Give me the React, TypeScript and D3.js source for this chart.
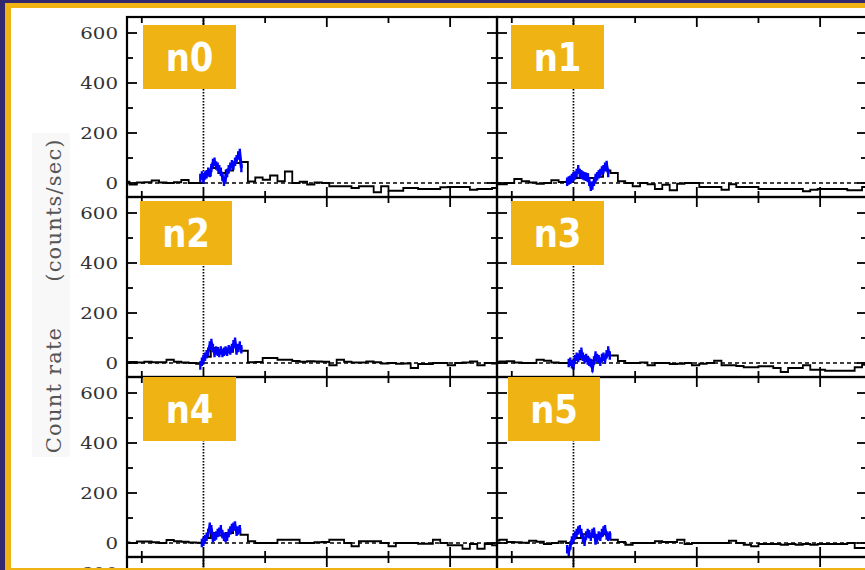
import React from "react";
import * as d3 from "d3";

// ---- data ----
const DETECTORS = ["n0", "n1", "n2", "n3", "n4", "n5"];
const BIN_START = -3.3;
const BIN_WIDTH = 0.3;

const HIST_N0 = [5, -6, 2, 3, 10, 2, 0, 3, 12, 0, 0, 30, 60, 40, 50, 80, 84, 6, 22, 13, 30, 7, 46, 0, 5, -6, 2, 0, -13, -13, -13, -20, -13, -13, -37, -13, -31, -31, -20, -20, -24, -24, -24, -17, -16, -16, -16, -27, -24, -24, -20];
const HIST_N1 = [-5, -5, 0, 16, 7, 2, -3, 0, 11, 4, 5, 20, 35, 20, 25, 50, 40, 7, 0, -13, 0, -5, -24, -7, -29, -3, 0, 0, -16, -16, -16, -27, -5, -16, -16, -16, -24, -24, -24, -24, -24, -24, -33, -27, -24, -24, -24, -24, -29, -29, -16];
const HIST_N2 = [3, 4, 2, 5, 3, 3, 13, 5, 2, 0, -3, 25, 60, 45, 45, 65, 49, 3, 4, 20, 20, 13, 13, 8, 5, 7, 6, 5, -9, 13, 5, 2, 2, 6, 3, -2, 0, -3, -2, -20, -4, -4, 0, 0, -9, 0, 2, 6, -9, 0, -2];
const HIST_N3 = [4, 6, 7, 2, 0, 0, 13, 9, 2, 0, 0, 15, 25, 10, 15, 30, 30, 8, 0, 0, 2, -9, 0, 0, -4, -3, 0, -9, -3, 0, 9, -9, -9, -12, -17, -17, -13, -13, -20, -36, -20, -20, -9, -27, -27, -31, -31, -31, -31, -17, -7];
const HIST_N4 = [2, 0, 6, 6, 3, 0, 12, 7, 5, 2, 1, 20, 40, 30, 40, 55, 33, 7, 0, 0, 0, 13, 13, 13, 0, 0, 3, 4, 13, 13, 0, -13, 7, 7, 7, 0, -13, 0, 0, 0, -3, -3, 13, 0, -9, -9, -23, -4, -23, -4, -9];
const HIST_N5 = [10, 13, 4, 3, 1, 9, 5, -4, 0, 6, 0, 20, 35, 25, 30, 35, 13, 4, -7, 0, 0, 0, 7, 4, 4, 13, -4, 0, 0, 0, 0, 0, 9, 0, -7, -13, -4, -4, -4, -7, -4, -7, -4, -7, -4, -4, -4, -4, 0, -20, -20];
const HISTS = [HIST_N0, HIST_N1, HIST_N2, HIST_N3, HIST_N4, HIST_N5];

const BLUE_STEP = 0.064;
const BLUE_START = [-0.128, -0.256, -0.128, -0.192, -0.064, -0.256];
const BLUE_N0 = [20, 30, 15, 30, 35, 45, 40, 60, 80, 85, 70, 65, 55, 45, 25, 5, 20, 40, 55, 65, 75, 70, 85, 95, 110, 120, 60];
const BLUE_N1 = [5, 10, 13, 20, 27, 30, 40, 55, 40, 35, 30, 27, 25, 20, 5, -15, -10, 5, 20, 27, 35, 40, 50, 55, 65, 72, 40];
const BLUE_N2 = [-10, 5, 15, 25, 35, 45, 70, 80, 60, 40, 50, 45, 40, 50, 40, 45, 50, 45, 55, 50, 60, 75, 85, 50, 60, 70, 55];
const BLUE_N3 = [0, 5, -5, -10, 15, 25, 20, 35, 45, 25, 15, 20, 10, 5, 0, -20, 10, 30, 20, 15, 5, 20, 25, 15, 35, 50, 30];
const BLUE_N4 = [0, 5, 15, 25, 40, 65, 55, 20, 25, 30, 40, 45, 55, 35, 25, 20, 25, 40, 50, 60, 65, 70, 45, 50, 55];
const BLUE_N5 = [-25, -35, -10, 10, 20, 30, 40, 50, 55, 40, 20, 5, 30, 40, 35, 25, 40, 45, 10, 20, 30, 25, 40, 50, 55, 30, 25, 30];
const BLUES = [BLUE_N0, BLUE_N1, BLUE_N2, BLUE_N3, BLUE_N4, BLUE_N5];
const BLUE_ERR = 17;

const Y_MAJOR = [0, 200, 400, 600];
const Y_MINOR = [100, 300, 500];
const X_MAJOR = [0, 5, 10];
const X_MINOR = [-2.5, 2.5, 7.5];
const Y_LABEL_A = "Count rate";
const Y_LABEL_B = "(counts/sec)";

// ---- layout ----
const W = 865;
const H = 570;
const COL_X = [127, 497];
const ROW_Y = [17, 197, 377, 557];
const PW = 370;
const PH = 180;
const X_DOMAIN: [number, number] = [-3.1, 11.9];
const Y_DOMAIN: [number, number] = [-56, 664];
const BOXES = [
  { x: 143, y: 25, w: 93, h: 64 },
  { x: 511, y: 25, w: 93, h: 64 },
  { x: 140, y: 201, w: 92, h: 64 },
  { x: 511, y: 201, w: 93, h: 64 },
  { x: 143, y: 377, w: 93, h: 64 },
  { x: 508, y: 377, w: 92, h: 64 },
];

const GOLD = "#efb414";
const PURPLE = "#33276f";

function Panel({ idx, row, col, hasData }: { idx: number; row: number; col: number; hasData: boolean }) {
  const x0 = COL_X[col];
  const y0 = ROW_Y[row];
  const xs = d3.scaleLinear().domain(X_DOMAIN).range([x0, x0 + PW]);
  const ys = d3.scaleLinear().domain(Y_DOMAIN).range([y0 + PH, y0]);
  const clipId = `clip-${row}-${col}`;

  let histPath = "";
  let bluePath = "";
  let errs: React.ReactNode[] = [];
  if (hasData) {
    const hv = HISTS[idx];
    const pts: [number, number][] = hv.map((v, k) => [BIN_START + k * BIN_WIDTH, v]);
    pts.push([BIN_START + hv.length * BIN_WIDTH, hv[hv.length - 1]]);
    histPath =
      d3
        .line<[number, number]>()
        .x((d) => xs(d[0]))
        .y((d) => ys(d[1]))
        .curve(d3.curveStepAfter)(pts) || "";
    const bv = BLUES[idx];
    const bpts: [number, number][] = bv.map((v, k) => [BLUE_START[idx] + k * BLUE_STEP, v]);
    bluePath =
      d3
        .line<[number, number]>()
        .x((d) => xs(d[0]))
        .y((d) => ys(d[1]))(bpts) || "";
    errs = bpts.map((p, k) => (
      <line
        key={k}
        x1={xs(p[0])}
        x2={xs(p[0])}
        y1={ys(p[1] - BLUE_ERR)}
        y2={ys(p[1] + BLUE_ERR)}
        stroke="#0000ff"
        strokeWidth={2.4}
      />
    ));
  }

  const ticks: React.ReactNode[] = [];
  Y_MAJOR.concat(Y_MINOR).forEach((v, i) => {
    const len = Y_MAJOR.includes(v) ? 10 : 6;
    const y = ys(v);
    ticks.push(<line key={`yl${i}`} x1={x0} x2={x0 + len} y1={y} y2={y} stroke="#000" strokeWidth={1.8} />);
    ticks.push(<line key={`yr${i}`} x1={x0 + PW} x2={x0 + PW - len} y1={y} y2={y} stroke="#000" strokeWidth={1.8} />);
  });
  X_MAJOR.concat(X_MINOR).forEach((t, i) => {
    const len = X_MAJOR.includes(t) ? 10 : 6;
    const x = xs(t);
    ticks.push(<line key={`xt${i}`} x1={x} x2={x} y1={y0} y2={y0 + len} stroke="#000" strokeWidth={1.8} />);
    ticks.push(<line key={`xb${i}`} x1={x} x2={x} y1={y0 + PH} y2={y0 + PH - len} stroke="#000" strokeWidth={1.8} />);
  });

  return (
    <g>
      <defs>
        <clipPath id={clipId}>
          <rect x={x0} y={y0} width={PW} height={PH} />
        </clipPath>
      </defs>
      <g clipPath={`url(#${clipId})`}>
        <line x1={x0} x2={x0 + PW} y1={ys(0)} y2={ys(0)} stroke="#000" strokeWidth={1.4} strokeDasharray="4,3" />
        <line x1={xs(0)} x2={xs(0)} y1={y0} y2={ys(0)} stroke="#000" strokeWidth={1.7} strokeDasharray="1.5,1.5" />
        {hasData && <path d={histPath} fill="none" stroke="#000" strokeWidth={1.8} />}
        {errs}
        {hasData && <path d={bluePath} fill="none" stroke="#0000ff" strokeWidth={3} />}
      </g>
      {ticks}
      <rect x={x0} y={y0} width={PW} height={PH} fill="none" stroke="#000" strokeWidth={2.2} />
      {col === 0 &&
        Y_MAJOR.map((v) => (
          <text
            key={`lab${v}`}
            transform={`translate(118,${ys(v) + 6}) scale(1.2,1)`}
            textAnchor="end"
            fontFamily="DejaVu Serif"
            fontSize={16.5}
            fill="#333"
          >
            {v}
          </text>
        ))}
    </g>
  );
}

export default function App() {
  const panels: React.ReactNode[] = [];
  for (let row = 0; row < 4; row++) {
    for (let col = 0; col < 2; col++) {
      const idx = row * 2 + col;
      panels.push(<Panel key={`${row}-${col}`} idx={idx} row={row} col={col} hasData={row < 3} />);
    }
  }
  return (
    <svg
      width={W}
      height={H}
      style={{ position: "absolute", left: 0, top: 0, display: "block" }}
      xmlns="http://www.w3.org/2000/svg"
    >
      <rect x={0} y={0} width={W} height={H} fill={PURPLE} />
      <rect x={5} y={3} width={W - 5} height={H - 3} fill={GOLD} />
      <rect x={11} y={8} width={W - 11} height={560} fill="#ffffff" />
      <rect x={32} y={133} width={38} height={324} fill="#f8f8f8" />
      <text
        transform="translate(61,390) rotate(-90)"
        textAnchor="middle"
        fontFamily="DejaVu Serif"
        fontSize={21}
        letterSpacing={1.2}
        fill="#555"
      >
        {Y_LABEL_A}
      </text>
      <text
        transform="translate(61,210) rotate(-90)"
        textAnchor="middle"
        fontFamily="DejaVu Serif"
        fontSize={21}
        letterSpacing={1.2}
        fill="#555"
      >
        {Y_LABEL_B}
      </text>
      {panels}
      {BOXES.map((b, i) => (
        <g key={`box${i}`}>
          <rect x={b.x} y={b.y} width={b.w} height={b.h} fill={GOLD} />
          <text
            transform={`translate(${b.x + b.w / 2},${b.y + b.h / 2 + 14}) scale(0.87,1)`}
            textAnchor="middle"
            fontFamily="DejaVu Sans"
            fontWeight="bold"
            fontSize={39}
            fill="#ffffff"
          >
            {DETECTORS[i]}
          </text>
        </g>
      ))}
      <rect x={5} y={568} width={W - 5} height={2} fill={GOLD} />
    </svg>
  );
}
